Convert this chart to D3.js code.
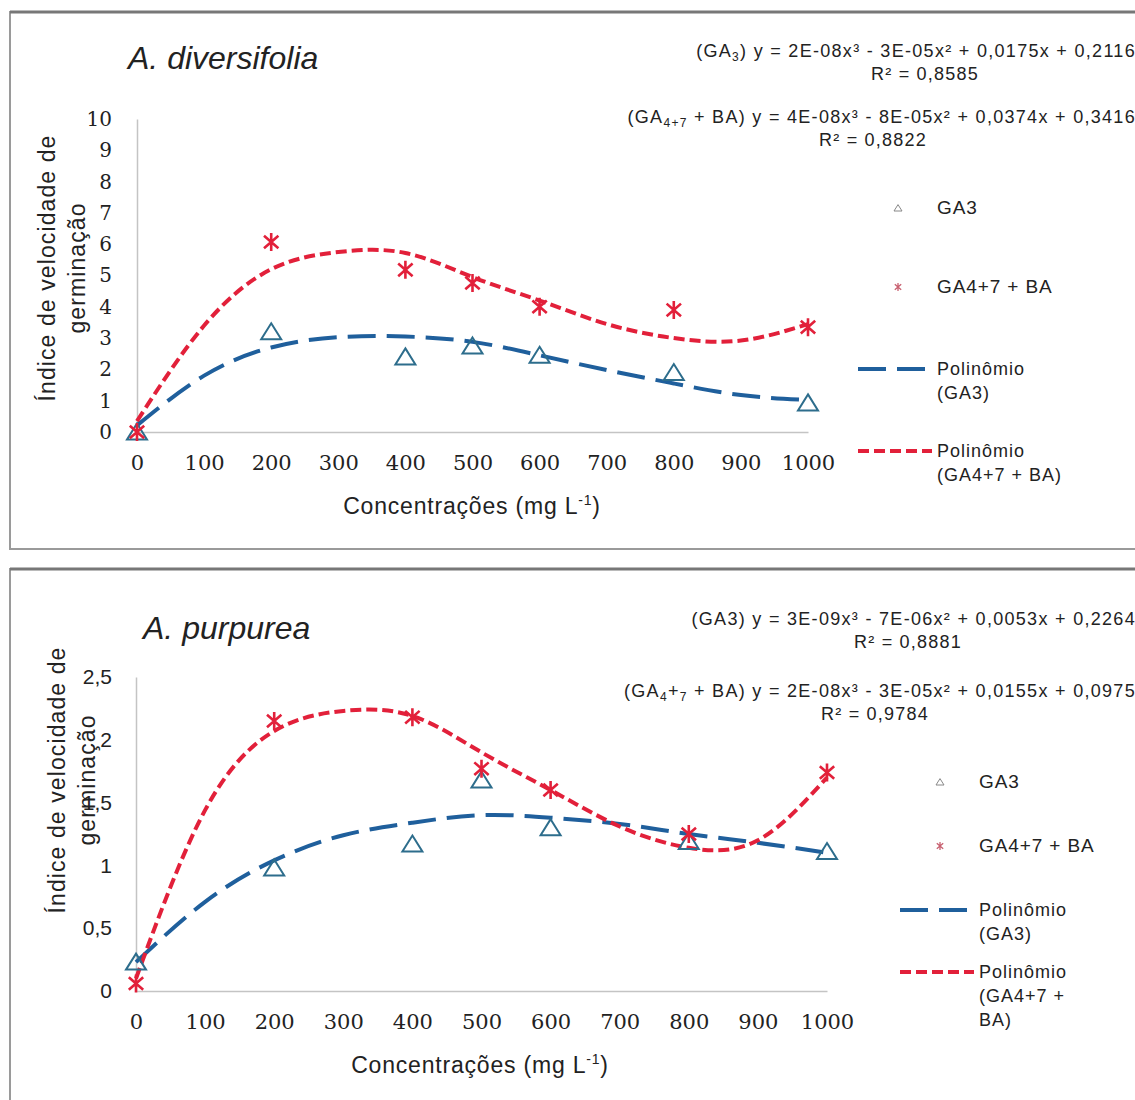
<!DOCTYPE html>
<html>
<head>
<meta charset="utf-8">
<script src="https://cdn.jsdelivr.net/npm/d3@7"></script>
<style>
  body { margin: 0; background: #fff; }
  text { font-family: 'Liberation Sans', Arial, sans-serif; fill: #222; }
</style>
</head>
<body>
<div id="container"></div>
<script>
// concentrations (mg L-1) of the measured points
const conc = [0, 200, 400, 500, 600, 800, 1000]
// trend curve every 100 mg L-1
const fitConc = [0, 100, 200, 300, 400, 500, 600, 700, 800, 900, 1000]
const xTicks = [0, 100, 200, 300, 400, 500, 600, 700, 800, 900, 1000]

// A. diversifolia
const divGA3 = [0, 3.2, 2.4, 2.75, 2.45, 1.9, 0.93]
const divGA47 = [0, 6.07, 5.18, 4.76, 4.0, 3.9, 3.35]
const divFitGA3 = [0.21, 1.8, 2.7, 3.03, 3.05, 2.88, 2.45, 1.98, 1.55, 1.18, 1.02]
const divFitGA47 = [0.35, 3.4, 5.2, 5.75, 5.72, 4.95, 4.2, 3.45, 3.0, 2.92, 3.45]
const divYTicks = [0, 1, 2, 3, 4, 5, 6, 7, 8, 9, 10]

// A. purpurea
const purGA3 = [0.23, 0.98, 1.17, 1.68, 1.3, 1.19, 1.11]
const purGA47 = [0.06, 2.15, 2.18, 1.77, 1.6, 1.25, 1.74]
const purFitGA3 = [0.23, 0.71, 1.04, 1.24, 1.34, 1.4, 1.38, 1.33, 1.25, 1.18, 1.1]
const purFitGA47 = [0.1, 1.44, 2.07, 2.23, 2.19, 1.9, 1.6, 1.31, 1.14, 1.2, 1.7]
const purYTicks = [0, 0.5, 1, 1.5, 2, 2.5]

const w = 1135
const h = 1100
const blue = '#1f5f9c'
const triColor = '#2d6d8c'
const red = '#e2203a'

const svg = d3.select('#container')
  .append('svg')
  .attr('width', w)
  .attr('height', h)

// asterisk marker: vertical bar plus an X
const starPath = (s) => `M0,${-s}L0,${s}M${-s * 0.8},${-s * 0.7}L${s * 0.8},${s * 0.7}M${-s * 0.8},${s * 0.7}L${s * 0.8},${-s * 0.7}`
const triPath = (s) => `M0,${-s * 0.85}L${s},${s * 0.75}L${-s},${s * 0.75}Z`

function drawPanel(p) {
  const g = svg.append('g')

  // frame
  g.append('rect')
    .attr('x', 10).attr('y', p.top)
    .attr('width', 1200).attr('height', p.frameH)
    .attr('fill', '#fff')
    .attr('stroke', '#9a9a9a').attr('stroke-width', 2)
  g.append('line')
    .attr('x1', 10).attr('x2', w).attr('y1', p.top).attr('y2', p.top)
    .attr('stroke', '#777').attr('stroke-width', 3)

  const x = d3.scaleLinear().domain([0, 1000]).range(p.xRange)
  const y = d3.scaleLinear().domain(p.yDomain).range(p.yRange)

  // x axis
  const xAxis = g.append('g')
    .attr('transform', `translate(0,${p.yRange[0]})`)
    .call(d3.axisBottom(x).tickValues(xTicks).tickSize(0).tickPadding(23)
      .tickFormat(d3.format('d')))
  xAxis.select('.domain').attr('stroke', '#c4c4c4').attr('stroke-width', 1.5)
  xAxis.selectAll('text').attr('font-size', 21).attr('fill', '#333')
    .style('font-family', "'DejaVu Serif', serif")

  // y axis
  const yAxis = g.append('g')
    .attr('transform', `translate(${p.xRange[0]},0)`)
    .call(d3.axisLeft(y).tickValues(p.yTicks).tickSize(0).tickPadding(p.yPad)
      .tickFormat(d => String(d).replace('.', ',')))
  yAxis.select('.domain').attr('stroke', '#c4c4c4').attr('stroke-width', 1.5)
  yAxis.selectAll('text').attr('font-size', p.yFontSize).attr('fill', '#333')
    .style('font-family', p.yFont)

  // axis titles
  const xt = g.append('text')
    .attr('x', p.xTitle[0]).attr('y', p.xTitle[1])
    .attr('text-anchor', 'middle').attr('font-size', 23)
    .attr('letter-spacing', 0.8)
  xt.append('tspan').text('Concentrações (mg L')
  xt.append('tspan').attr('dy', -9).attr('font-size', 14).text('-1')
  xt.append('tspan').attr('dy', 9).text(')')

  const yt = g.append('text')
    .attr('transform', `translate(${p.yTitle[0]},${p.yTitle[1]}) rotate(-90)`)
    .attr('text-anchor', 'middle').attr('font-size', 23)
    .attr('letter-spacing', 1.1)
  yt.append('tspan').attr('x', 0).attr('y', 0).text('Índice de velocidade de')
  yt.append('tspan').attr('x', 0).attr('y', 30).text('germinação')

  // species title
  g.append('text')
    .attr('x', p.title[0]).attr('y', p.title[1])
    .attr('font-size', 32).attr('font-style', 'italic')
    .text(p.name)

  // trend curves
  const line = d3.line()
    .x((d, i) => x(fitConc[i]))
    .y(d => y(d))
    .curve(d3.curveNatural)

  g.append('path')
    .datum(p.fitGA3)
    .attr('d', line)
    .attr('fill', 'none')
    .attr('stroke', blue).attr('stroke-width', 4)
    .attr('stroke-dasharray', '28,11')

  g.append('path')
    .datum(p.fitGA47)
    .attr('d', line)
    .attr('fill', 'none')
    .attr('stroke', red).attr('stroke-width', 4)
    .attr('stroke-dasharray', '11,5')

  // points
  g.selectAll('.tri')
    .data(p.ga3)
    .enter()
    .append('path')
    .attr('class', 'tri')
    .attr('transform', (d, i) => `translate(${x(conc[i])},${y(d)})`)
    .attr('d', triPath(10))
    .attr('fill', 'none')
    .attr('stroke', triColor).attr('stroke-width', 2)

  g.selectAll('.star')
    .data(p.ga47)
    .enter()
    .append('path')
    .attr('class', 'star')
    .attr('transform', (d, i) => `translate(${x(conc[i])},${y(d)})`)
    .attr('d', starPath(9))
    .attr('fill', 'none')
    .attr('stroke', red).attr('stroke-width', 2.6)

  // equations (parts: [text, subscript?])
  p.eqs.forEach(e => {
    const t = g.append('text')
      .attr('x', 1136).attr('y', e.y)
      .attr('text-anchor', 'end').attr('font-size', 18)
      .attr('letter-spacing', 1.3)
    let low = false
    e.parts.forEach(([s, sub]) => {
      const dy = sub && !low ? 4 : (!sub && low ? -4 : 0)
      t.append('tspan').attr('dy', dy).attr('font-size', sub ? 12 : 18).text(s)
      low = sub
    })
    g.append('text')
      .attr('x', e.rx).attr('y', e.y + 23)
      .attr('text-anchor', 'middle').attr('font-size', 18)
      .attr('letter-spacing', 1.2)
      .text(e.r2)
  })

  // legend
  const lx = p.legend[0]
  const ly = p.legend
  g.append('path')
    .attr('transform', `translate(${lx},${ly[1]})`)
    .attr('d', triPath(4))
    .attr('fill', 'none').attr('stroke', '#888').attr('stroke-width', 1)
  g.append('text').attr('x', lx + 39).attr('y', ly[1] + 6).attr('font-size', 19)
    .attr('letter-spacing', 0.9).text('GA3')

  g.append('path')
    .attr('transform', `translate(${lx},${ly[2]})`)
    .attr('d', starPath(4))
    .attr('fill', 'none').attr('stroke', '#c86070').attr('stroke-width', 1.3)
  g.append('text').attr('x', lx + 39).attr('y', ly[2] + 6).attr('font-size', 19)
    .attr('letter-spacing', 0.9).text('GA4+7 + BA')

  g.append('line')
    .attr('x1', lx - 40).attr('x2', lx + 34).attr('y1', ly[3]).attr('y2', ly[3])
    .attr('stroke', blue).attr('stroke-width', 4).attr('stroke-dasharray', '28,11')
  const t3 = g.append('text').attr('x', lx + 39).attr('y', ly[3] + 6).attr('font-size', 18)
    .attr('letter-spacing', 1)
  t3.append('tspan').attr('x', lx + 39).text('Polinômio')
  t3.append('tspan').attr('x', lx + 39).attr('dy', 24).text('(GA3)')

  g.append('line')
    .attr('x1', lx - 40).attr('x2', lx + 34).attr('y1', ly[4]).attr('y2', ly[4])
    .attr('stroke', red).attr('stroke-width', 4).attr('stroke-dasharray', '11,5')
  const t4 = g.append('text').attr('x', lx + 39).attr('y', ly[4] + 6).attr('font-size', 18)
    .attr('letter-spacing', 1)
  t4.append('tspan').attr('x', lx + 39).text('Polinômio')
  p.lastLabel.forEach(s => t4.append('tspan').attr('x', lx + 39).attr('dy', 24).text(s))
}

drawPanel({
  top: 12, frameH: 537,
  name: 'A. diversifolia', title: [128, 69],
  xRange: [137, 808], yDomain: [0, 10], yRange: [432, 119], yTicks: divYTicks, yPad: 25,
  yFont: "'DejaVu Serif', serif", yFontSize: 20,
  xTitle: [472, 514], yTitle: [55, 268],
  ga3: divGA3, ga47: divGA47, fitGA3: divFitGA3, fitGA47: divFitGA47,
  eqs: [
    { y: 57, parts: [['(GA', false], ['3', true], [') y = 2E-08x³ - 3E-05x² + 0,0175x + 0,2116', false]], r2: 'R² = 0,8585', rx: 925 },
    { y: 123, parts: [['(GA', false], ['4+7', true], [' + BA) y = 4E-08x³ - 8E-05x² + 0,0374x + 0,3416', false]], r2: 'R² = 0,8822', rx: 873 }
  ],
  legend: [898, 208, 287, 369, 451],
  lastLabel: ['(GA4+7 + BA)']
})

drawPanel({
  top: 569, frameH: 600,
  name: 'A. purpurea', title: [143, 639],
  xRange: [136, 827], yDomain: [0, 2.5], yRange: [991, 677], yTicks: purYTicks, yPad: 24,
  yFont: "'Liberation Sans', Arial, sans-serif", yFontSize: 21,
  xTitle: [480, 1073], yTitle: [65, 780],
  ga3: purGA3, ga47: purGA47, fitGA3: purFitGA3, fitGA47: purFitGA47,
  eqs: [
    { y: 625, parts: [['(GA3) y = 3E-09x³ - 7E-06x² + 0,0053x + 0,2264', false]], r2: 'R² = 0,8881', rx: 908 },
    { y: 697, parts: [['(GA', false], ['4', true], ['+', false], ['7', true], [' + BA) y = 2E-08x³ - 3E-05x² + 0,0155x + 0,0975', false]], r2: 'R² = 0,9784', rx: 875 }
  ],
  legend: [940, 782, 846, 910, 972],
  lastLabel: ['(GA4+7 +', 'BA)']
})
</script>
</body>
</html>
